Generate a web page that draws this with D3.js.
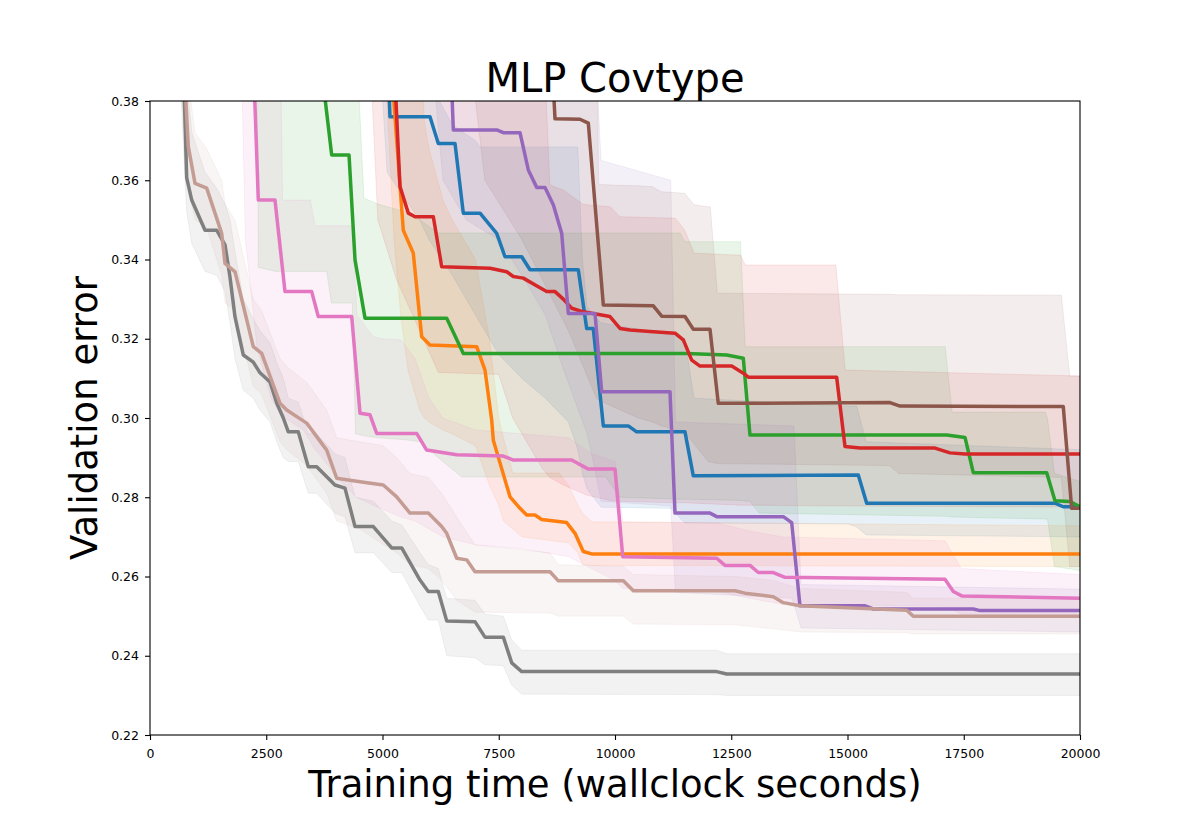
<!DOCTYPE html>
<html>
<head>
<meta charset="utf-8">
<script src="https://cdn.jsdelivr.net/npm/d3@7"></script>
<style>
  body { margin: 0; background: #fff; }
  svg { font-family: "DejaVu Sans", sans-serif; }
</style>
</head>
<body>
<div id="chart"></div>
<script>
// [time, median]  and  [time, lower, upper]
const blueMean = [[5100,0.395],[5161,0.3760],[6021,0.3760],[6200,0.3693],[6559,0.3693],[6738,0.3517],[7097,0.3517],[7456,0.3466],[7634,0.3407],[7994,0.3407],[8172,0.3374],[9211,0.3374],[9391,0.3226],[9533,0.3226],[9749,0.2980],[10286,0.2980],[10466,0.2965],[11505,0.2965],[11684,0.2854],[15232,0.2856],[15413,0.2785],[19462,0.2785],[19640,0.2776],[20000,0.2776]]
const blueBand = [[4900,0.400,0.400],[5100,0.362,0.400],[5500,0.355,0.400],[5800,0.350,0.400],[6000,0.345,0.385],[6500,0.336,0.374],[7000,0.326,0.370],[7100,0.324,0.3684],[7500,0.316,0.3684],[8000,0.310,0.3684],[8500,0.305,0.3684],[9000,0.299,0.3684],[9200,0.292,0.3684],[9300,0.286,0.340],[9400,0.282,0.328],[9700,0.2775,0.324],[11200,0.2772,0.321],[11500,0.2735,0.320],[11700,0.2735,0.305],[15000,0.2733,0.303],[15200,0.2725,0.303],[15400,0.2705,0.294],[20000,0.2700,0.292]]

const orangeMean = [[5150,0.395],[5447,0.3474],[5662,0.3416],[5843,0.3205],[6021,0.3184],[7026,0.3180],[7204,0.3121],[7348,0.2995],[7383,0.2944],[7742,0.2801],[7957,0.2772],[8101,0.2755],[8279,0.2755],[8424,0.2744],[8961,0.2736],[9140,0.2709],[9318,0.2663],[9499,0.2657],[20000,0.2657]]
const orangeBand = [[5000,0.400,0.400],[5250,0.345,0.400],[5400,0.325,0.400],[5550,0.312,0.400],[5800,0.302,0.400],[5900,0.300,0.375],[6000,0.299,0.368],[6300,0.297,0.355],[6500,0.296,0.350],[7000,0.293,0.340],[7300,0.283,0.320],[7500,0.278,0.300],[7600,0.274,0.295],[7800,0.272,0.2861],[8000,0.270,0.2861],[8800,0.2688,0.2861],[9000,0.2685,0.2830],[9200,0.2660,0.2780],[9300,0.2630,0.2760],[9500,0.2628,0.2738],[20000,0.2625,0.2728]]

const greenMean = [[3620,0.395],[3907,0.3664],[4280,0.3664],[4409,0.3399],[4624,0.3252],[6381,0.3252],[6738,0.3163],[11542,0.3163],[12402,0.3159],[12759,0.3151],[12903,0.2957],[17133,0.2957],[17527,0.2951],[17705,0.2862],[19284,0.2862],[19462,0.2791],[19785,0.2789],[20000,0.2776]]
const greenBand = [[2300,0.400,0.400],[2330,0.338,0.400],[2700,0.337,0.400],[3800,0.337,0.400],[3900,0.329,0.400],[4350,0.329,0.400],[4420,0.296,0.400],[4600,0.2955,0.3555],[4900,0.295,0.354],[5500,0.2945,0.352],[5800,0.294,0.350],[6200,0.290,0.3467],[6700,0.2851,0.3467],[9800,0.2851,0.3467],[10100,0.2800,0.3467],[11400,0.2795,0.3467],[11500,0.2795,0.3445],[12700,0.2792,0.3445],[12800,0.2790,0.318],[12900,0.2790,0.318],[13100,0.2760,0.318],[17100,0.2752,0.318],[17250,0.2750,0.3015],[19250,0.2745,0.3015],[19300,0.2745,0.300],[19450,0.2625,0.2860],[20000,0.2615,0.2840]]

const redMean = [[5230,0.395],[5376,0.3584],[5555,0.3517],[5699,0.3508],[6093,0.3508],[6273,0.3382],[7312,0.3378],[7671,0.3369],[7813,0.3357],[8028,0.3353],[8350,0.3331],[8531,0.3319],[8710,0.3319],[8888,0.3300],[9069,0.3277],[9318,0.3268],[9892,0.3256],[10107,0.3226],[10322,0.3222],[10753,0.3218],[11290,0.3214],[11469,0.3197],[11650,0.3146],[11828,0.3131],[12510,0.3131],[12759,0.3113],[12866,0.3103],[14767,0.3103],[14946,0.2928],[15269,0.2924],[16881,0.2924],[17204,0.2912],[17527,0.2909],[20000,0.2909]]
const redBand = [[4700,0.400,0.400],[4900,0.350,0.400],[5300,0.335,0.400],[5800,0.322,0.400],[6200,0.3115,0.400],[7500,0.3110,0.400],[7800,0.300,0.400],[8200,0.292,0.400],[8450,0.287,0.400],[8600,0.285,0.3588],[8900,0.2830,0.3575],[9300,0.281,0.3540],[9400,0.2805,0.3538],[9900,0.2792,0.3533],[10100,0.2790,0.3508],[11300,0.2786,0.3504],[11500,0.2786,0.3474],[11700,0.2785,0.3416],[12700,0.2780,0.3411],[12800,0.2780,0.3386],[14750,0.2778,0.3386],[14950,0.2778,0.3121],[20000,0.2775,0.3106]]

const purpleMean = [[6450,0.395],[6523,0.3727],[7456,0.3727],[7598,0.3720],[7957,0.3720],[8136,0.3626],[8316,0.3582],[8495,0.3582],[8673,0.3538],[8854,0.3466],[8996,0.3264],[9570,0.3264],[9714,0.3066],[11183,0.3066],[11290,0.2760],[12043,0.2760],[12187,0.2751],[13619,0.2751],[13800,0.2736],[13978,0.2526],[15376,0.2526],[15555,0.2518],[17706,0.2518],[17850,0.2514],[20000,0.2514]]
const purpleBand = [[6000,0.400,0.400],[6300,0.360,0.400],[6800,0.350,0.400],[7500,0.345,0.400],[8000,0.336,0.400],[8500,0.326,0.400],[8900,0.312,0.400],[9400,0.296,0.400],[9550,0.288,0.400],[9700,0.2790,0.365],[11200,0.2778,0.360],[11300,0.2560,0.299],[13800,0.2545,0.298],[13850,0.2530,0.298],[14000,0.2470,0.2580],[20000,0.2460,0.2568]]

const brownMean = [[8600,0.400],[8710,0.3755],[9247,0.3754],[9426,0.3744],[9749,0.3285],[10824,0.3283],[11004,0.3257],[11505,0.3256],[11684,0.3224],[12043,0.3224],[12221,0.3037],[15914,0.3039],[16129,0.3030],[19640,0.3029],[19821,0.2772],[20000,0.2772]]
const brownBand = [[6800,0.400,0.400],[7200,0.360,0.400],[8000,0.345,0.400],[9000,0.322,0.400],[9600,0.305,0.400],[9650,0.3045,0.3589],[10500,0.300,0.3586],[10800,0.299,0.3584],[11000,0.298,0.3571],[11500,0.2965,0.3567],[11700,0.2935,0.3538],[12000,0.289,0.3533],[12050,0.2889,0.3533],[12200,0.2885,0.3315],[15900,0.288,0.3312],[16100,0.286,0.3311],[19600,0.285,0.3310],[19780,0.2625,0.3106],[20000,0.2625,0.3106]]

const pinkMean = [[2210,0.395],[2329,0.3550],[2688,0.3550],[2903,0.3319],[3477,0.3319],[3619,0.3256],[4338,0.3256],[4516,0.3012],[4731,0.3008],[4875,0.2961],[5735,0.2961],[5950,0.2919],[6596,0.2907],[7598,0.2904],[7813,0.2894],[9069,0.2894],[9426,0.2871],[10000,0.2871],[10166,0.2650],[12187,0.2646],[12366,0.2628],[12903,0.2628],[13082,0.2610],[13404,0.2610],[13656,0.2598],[17096,0.2593],[17275,0.2562],[17456,0.2551],[20000,0.2545]]
const pinkBand = [[1950,0.400,0.400],[2050,0.345,0.400],[2300,0.318,0.400],[2600,0.305,0.400],[2800,0.301,0.400],[2850,0.300,0.355],[2900,0.300,0.355],[3300,0.297,0.355],[3450,0.294,0.355],[3550,0.292,0.3485],[3700,0.290,0.3485],[4100,0.284,0.3485],[4350,0.281,0.3485],[4450,0.280,0.326],[4800,0.278,0.3205],[5000,0.277,0.3200],[5400,0.275,0.3197],[5700,0.274,0.315],[6000,0.272,0.305],[6300,0.270,0.300],[7000,0.268,0.297],[8000,0.267,0.296],[9000,0.265,0.295],[9500,0.262,0.291],[10000,0.259,0.289],[10170,0.2570,0.2738],[12200,0.2562,0.2735],[12900,0.2545,0.2715],[13600,0.2530,0.2700],[17100,0.2525,0.2690],[17450,0.2505,0.2620],[20000,0.2500,0.2605]]

const grayMean = [[690,0.400],[789,0.3606],[897,0.3550],[1183,0.3474],[1434,0.3474],[1613,0.3437],[1720,0.3356],[1828,0.3255],[2006,0.3159],[2221,0.3141],[2366,0.3114],[2581,0.3091],[2725,0.3038],[2867,0.3000],[2974,0.2965],[3189,0.2965],[3404,0.2877],[3585,0.2877],[3978,0.2831],[4193,0.2823],[4409,0.2726],[4802,0.2726],[5198,0.2672],[5413,0.2672],[5806,0.2591],[5985,0.2562],[6200,0.2562],[6381,0.2488],[6989,0.2486],[7204,0.2447],[7598,0.2447],[7779,0.2382],[7994,0.2360],[12187,0.2360],[12402,0.2354],[20000,0.2354]]
const grayBand = [[650,0.385,0.400],[789,0.352,0.385],[900,0.344,0.372],[1183,0.337,0.362],[1434,0.336,0.358],[1613,0.332,0.354],[1720,0.324,0.350],[1828,0.315,0.342],[2006,0.307,0.330],[2221,0.305,0.325],[2366,0.302,0.322],[2581,0.299,0.319],[2725,0.294,0.314],[2867,0.290,0.310],[2974,0.289,0.305],[3189,0.289,0.304],[3404,0.281,0.296],[3585,0.281,0.296],[3978,0.276,0.291],[4193,0.275,0.290],[4409,0.266,0.280],[4802,0.266,0.279],[5198,0.261,0.274],[5413,0.261,0.273],[5806,0.2525,0.266],[5985,0.249,0.263],[6200,0.249,0.262],[6381,0.2400,0.2545],[6989,0.2395,0.2540],[7204,0.2377,0.2505],[7598,0.2375,0.2500],[7779,0.2326,0.2440],[7994,0.2303,0.2414],[12187,0.2302,0.2414],[12402,0.2300,0.2405],[20000,0.2300,0.2405]]

const tanMean = [[680,0.400],[824,0.3685],[968,0.3592],[1219,0.3580],[1542,0.3466],[1613,0.3390],[1828,0.3369],[2221,0.3180],[2402,0.3163],[2796,0.3037],[2940,0.3020],[3370,0.2987],[3800,0.2919],[4015,0.2848],[4516,0.2839],[5017,0.2831],[5305,0.2801],[5591,0.2760],[5985,0.2760],[6273,0.2726],[6381,0.2709],[6596,0.2646],[6811,0.2642],[6989,0.2612],[8602,0.2612],[8781,0.2589],[10179,0.2589],[10394,0.2564],[12580,0.2564],[12795,0.2558],[13404,0.2549],[13619,0.2534],[13978,0.2526],[16273,0.2515],[16414,0.2500],[20000,0.2500]]
const tanBand = [[640,0.388,0.405],[824,0.358,0.385],[968,0.350,0.372],[1219,0.348,0.368],[1542,0.336,0.360],[1613,0.329,0.354],[1828,0.327,0.350],[2221,0.308,0.330],[2402,0.306,0.327],[2796,0.294,0.315],[2940,0.292,0.313],[3370,0.288,0.309],[3800,0.281,0.302],[4015,0.274,0.295],[4516,0.272,0.294],[5017,0.268,0.293],[5305,0.266,0.290],[5591,0.263,0.286],[5985,0.262,0.285],[6273,0.259,0.281],[6596,0.254,0.275],[6989,0.2510,0.2680],[8602,0.2508,0.2660],[8781,0.2500,0.2630],[10179,0.2500,0.2625],[10394,0.2480,0.2605],[12580,0.2478,0.2600],[13404,0.2468,0.2590],[13978,0.2460,0.2570],[16273,0.2458,0.2560],[16414,0.2455,0.2545],[20000,0.2455,0.2545]]

const xTicks = [0, 2500, 5000, 7500, 10000, 12500, 15000, 17500, 20000]
const yTicks = [0.22, 0.24, 0.26, 0.28, 0.30, 0.32, 0.34, 0.36, 0.38]

const series = [
  { color: "#1f77b4", mean: blueMean, band: blueBand },
  { color: "#ff7f0e", mean: orangeMean, band: orangeBand },
  { color: "#2ca02c", mean: greenMean, band: greenBand },
  { color: "#d62728", mean: redMean, band: redBand },
  { color: "#9467bd", mean: purpleMean, band: purpleBand },
  { color: "#8c564b", mean: brownMean, band: brownBand },
  { color: "#e377c2", mean: pinkMean, band: pinkBand },
  { color: "#7f7f7f", mean: grayMean, band: grayBand },
  { color: "#c49c94", mean: tanMean, band: tanBand },
]

const width = 1200
const height = 840
const margin = { top: 101, right: 120, bottom: 105, left: 150 }

const x = d3.scaleLinear().domain([0, 20000]).range([margin.left, width - margin.right])
const y = d3.scaleLinear().domain([0.22, 0.38]).range([height - margin.bottom, margin.top])

const svg = d3.select("#chart")
  .append("svg")
  .attr("width", width)
  .attr("height", height)

svg.append("clipPath")
  .attr("id", "plot-clip")
  .append("rect")
  .attr("x", margin.left)
  .attr("y", margin.top)
  .attr("width", x(20000) - x(0))
  .attr("height", y(0.22) - y(0.38))

const plot = svg.append("g").attr("clip-path", "url(#plot-clip)")

const area = d3.area()
  .x(d => x(d[0]))
  .y0(d => y(d[1]))
  .y1(d => y(d[2]))

const line = d3.line()
  .x(d => x(d[0]))
  .y(d => y(d[1]))

// shaded spread first, lines on top
plot.append("g")
  .selectAll("path")
  .data(series)
  .join("path")
  .attr("d", s => area(s.band))
  .attr("fill", s => s.color)
  .attr("fill-opacity", 0.1)
  .attr("stroke", s => s.color)
  .attr("stroke-opacity", 0.1)
  .attr("stroke-width", 1)

plot.append("g")
  .selectAll("path")
  .data(series)
  .join("path")
  .attr("d", s => line(s.mean))
  .attr("fill", "none")
  .attr("stroke", s => s.color)
  .attr("stroke-width", 3.5)
  .attr("stroke-linejoin", "round")

// axes
svg.append("g")
  .attr("transform", `translate(0,${y(0.22)})`)
  .call(d3.axisBottom(x).tickValues(xTicks).tickFormat(d3.format("d")).tickSize(5).tickPadding(9))

svg.append("g")
  .attr("transform", `translate(${x(0)},0)`)
  .call(d3.axisLeft(y).tickValues(yTicks).tickFormat(d3.format(".2f")).tickSize(5).tickPadding(6))

svg.selectAll(".domain").remove()
svg.selectAll(".tick line").attr("stroke", "#000").attr("stroke-width", 1.1)
svg.selectAll(".tick text")
  .attr("fill", "#000")
  .style("font-family", "'DejaVu Sans', sans-serif")
  .style("font-size", "12.5px")

svg.append("rect")
  .attr("x", x(0))
  .attr("y", y(0.38))
  .attr("width", x(20000) - x(0))
  .attr("height", y(0.22) - y(0.38))
  .attr("fill", "none")
  .attr("stroke", "#000")
  .attr("stroke-width", 1.1)

svg.append("text")
  .attr("x", (x(0) + x(20000)) / 2)
  .attr("y", 92)
  .attr("text-anchor", "middle")
  .style("font-size", "40px")
  .text("MLP Covtype")

svg.append("text")
  .attr("x", (x(0) + x(20000)) / 2)
  .attr("y", 797)
  .attr("text-anchor", "middle")
  .style("font-size", "37px")
  .text("Training time (wallclock seconds)")

svg.append("text")
  .attr("transform", `translate(97,${(y(0.22) + y(0.38)) / 2}) rotate(-90)`)
  .attr("text-anchor", "middle")
  .style("font-size", "37px")
  .text("Validation error")
</script>
</body>
</html>
